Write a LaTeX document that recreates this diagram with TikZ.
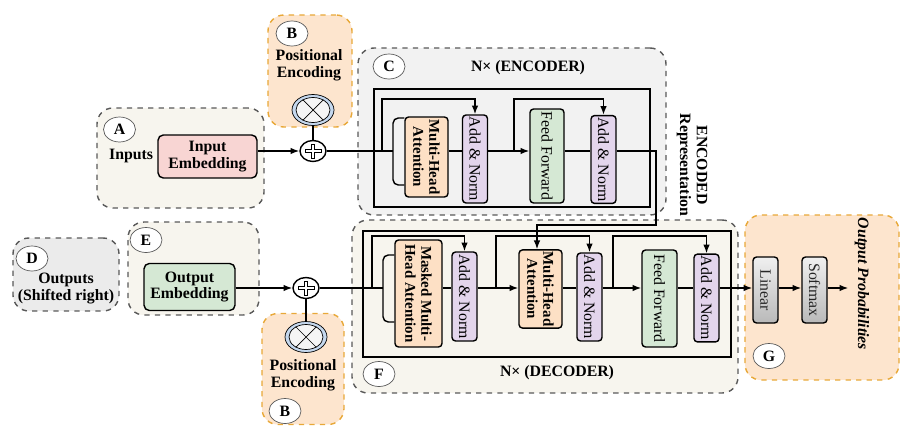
\documentclass[tikz,border=0pt]{standalone}
\usepackage{fontspec}
\setmainfont{Liberation Serif}
\usetikzlibrary{arrows.meta,positioning,shapes.geometric}

\definecolor{beige}{HTML}{F7F5EE}
\definecolor{encgray}{HTML}{F2F2F2}
\definecolor{outgray}{HTML}{EBEBEB}
\definecolor{peorange}{HTML}{FDE5CE}
\definecolor{pedash}{HTML}{E8A838}
\definecolor{embpink}{HTML}{F8D5D3}
\definecolor{ffgreen}{HTML}{D5E8D4}
\definecolor{attpeach}{HTML}{FDE0C5}
\definecolor{normpurple}{HTML}{E3D5EC}
\definecolor{ringblue}{HTML}{C5D8EE}

\begin{document}
\begin{tikzpicture}[>={Latex[length=5pt]},x=0.02cm,y=-0.02cm,thick,font=\fontsize{9}{9.5}\selectfont]
  \tikzstyle{grp}=[draw=gray!70!black,dashed,rounded corners=9pt]
  \tikzstyle{pgrp}=[draw=pedash,dashed,fill=peorange,rounded corners=9pt]
  \tikzstyle{tag}=[ellipse,draw=gray!70!black,thin,fill=white,minimum width=0.64cm,minimum height=0.5cm,inner sep=0pt,font=\fontsize{9}{9.5}\selectfont\bfseries]
  \tikzstyle{txt}=[align=center,inner sep=1pt,font=\fontsize{9}{9.5}\selectfont\bfseries]
  \tikzstyle{emb}=[draw,rounded corners=3pt,align=center,inner sep=1pt,font=\fontsize{9}{9.5}\selectfont\bfseries]
  \tikzstyle{vbox}=[draw,rounded corners=2pt,rotate=-90,align=center,inner sep=1pt]
  \tikzstyle{att}=[vbox,fill=attpeach,font=\fontsize{8.5}{9}\selectfont\bfseries]
  \tikzstyle{addnorm}=[vbox,fill=normpurple,minimum height=0.5cm]
  \tikzstyle{outbox}=[vbox,top color=gray!12,bottom color=gray!55,text=black!85,minimum height=0.5cm,minimum width=1.32cm]
  \tikzstyle{posring}=[ellipse,draw,thin,fill=ringblue,minimum width=0.84cm,minimum height=0.62cm]
  \tikzstyle{posinner}=[ellipse,draw,thin,fill=gray!8,minimum width=0.68cm,minimum height=0.5cm]
  \tikzstyle{sumnode}=[ellipse,draw,fill=white,minimum width=0.52cm,minimum height=0.42cm,inner sep=0pt]
  \useasboundingbox (0,0) rectangle (901,426);

  % groups
  \node[grp,fill=beige,minimum width=3.34cm,minimum height=2cm] (ga) at (180.5,158) {};
  \node[pgrp,minimum width=1.68cm,minimum height=2.24cm] (gb1) at (310,71) {};
  \node[grp,fill=encgray,minimum width=6.16cm,minimum height=3.34cm] (gc) at (512,131.5) {};
  \node[grp,fill=outgray,minimum width=2.12cm,minimum height=1.46cm] (gd) at (66,274.5) {};
  \node[grp,fill=beige,minimum width=2.62cm,minimum height=1.86cm] (ge) at (193.5,268.5) {};
  \node[pgrp,minimum width=1.64cm,minimum height=2.22cm] (gb2) at (303,369) {};
  \node[grp,fill=beige,minimum width=7.72cm,minimum height=3.46cm] (gf) at (545,306.5) {};
  \node[pgrp,minimum width=3.08cm,minimum height=3.3cm] (gg) at (822,297.5) {};

  % group tags
  \node[tag] (ta) at (119.5,129.5) {A};
  \node[tag] (tb1) at (292,33.5) {B};
  \node[tag] (tc) at (389,66.5) {C};
  \node[tag] (td) at (32,258.5) {D};
  \node[tag] (te) at (146,240) {E};
  \node[tag] (tb2) at (285,411) {B};
  \node[tag] (tf) at (379,374) {F};
  \node[tag] (tg) at (769,356) {G};

  % stacks
  \node[draw,minimum width=5.52cm,minimum height=2.36cm] (encblk) at (512,148) {};
  \node[draw,minimum width=7.36cm,minimum height=2.52cm] (decblk) at (547,294) {};
  \node[txt] (enct) at (528,68) {N× (ENCODER)};
  \node[txt] (dect) at (557,373) {N× (DECODER)};
  \node[txt,rotate=-90] (encrep) at (692,165) {ENCODED\\Representation};

  % inputs
  \node[emb,fill=embpink,minimum width=1.98cm,minimum height=0.86cm] (ie) at (207.5,156.5) {Input\\Embedding};
  \node[txt,left=1pt of ie] (inp) {Inputs};
  \node[txt] (outs) at (66,288.5) {Outputs\\(Shifted right)};
  \node[emb,fill=ffgreen,minimum width=1.82cm,minimum height=0.94cm] (oe) at (189.5,287) {Output\\Embedding};

  % positional encoding
  \node[txt] (pt1) at (309,65) {Positional\\Encoding};
  \node[posring] (pe1) at (313,110) {};
  \node[posinner] (pei1) at (pe1) {};
  \draw[thin] (pei1.45) -- (pei1.225) (pei1.135) -- (pei1.315);
  \node[sumnode] (s1) at (313,151) {};
  \draw[thin,shift={(s1)}] (-1.8,-7) -- (1.8,-7) -- (1.8,-1.8) -- (8,-1.8) -- (8,1.8) -- (1.8,1.8) -- (1.8,7)
    -- (-1.8,7) -- (-1.8,1.8) -- (-8,1.8) -- (-8,-1.8) -- (-1.8,-1.8) -- cycle;
  \draw (pe1.south) -- (s1.north);

  \node[txt] (pt2) at (303,375.5) {Positional\\Encoding};
  \node[posring] (pe2) at (306,337) {};
  \node[posinner] (pei2) at (pe2) {};
  \draw[thin] (pei2.45) -- (pei2.225) (pei2.135) -- (pei2.315);
  \node[sumnode] (s2) at (306,288) {};
  \draw[thin,shift={(s2)}] (-1.8,-7) -- (1.8,-7) -- (1.8,-1.8) -- (8,-1.8) -- (8,1.8) -- (1.8,1.8) -- (1.8,7)
    -- (-1.8,7) -- (-1.8,1.8) -- (-8,1.8) -- (-8,-1.8) -- (-1.8,-1.8) -- cycle;
  \draw (pe2.north) -- (s2.south);

  % encoder
  \node[att,minimum width=1.6cm,minimum height=0.86cm] (emha) at (426.5,157) {Multi-Head\\Attention};
  \node[addnorm,minimum width=1.76cm] (ean1) at (475,159) {Add \& Norm};
  \node[vbox,fill=ffgreen,minimum width=1.88cm,minimum height=0.68cm] (eff) at (547,156) {Feed Forward};
  \node[addnorm,minimum width=1.74cm] (ean2) at (603.5,159.5) {Add \& Norm};

  % decoder
  \node[att,minimum width=2.14cm,minimum height=0.94cm] (dmmha) at (418.5,293.5) {Masked Multi-\\Head Attention};
  \node[addnorm,minimum width=1.78cm] (dan1) at (464.5,296.5) {Add \& Norm};
  \node[att,minimum width=1.56cm,minimum height=0.86cm] (dmha) at (540.5,289) {Multi-Head\\Attention};
  \node[addnorm,minimum width=1.76cm] (dan2) at (589.5,297) {Add \& Norm};
  \node[vbox,fill=ffgreen,minimum width=1.94cm,minimum height=0.7cm] (dff) at (659.5,298.5) {Feed Forward};
  \node[addnorm,minimum width=1.72cm] (dan3) at (706.5,298) {Add \& Norm};

  % output head
  \node[outbox] (lin) at (765.5,290) {Linear};
  \node[outbox] (smx) at (814.5,290) {Softmax};
  \node[rotate=-90,font=\fontsize{9}{9.5}\selectfont\bfseries\itshape] (op) at (862,284) {Output Probabilities};

  \coordinate (etop) at (0,99);
  \coordinate (dtop) at (0,236);
  \coordinate (ebr) at (393,151);
  \coordinate (dbr) at (383,288);
  \coordinate (er1) at (382,151);
  \coordinate (er2) at (514,151);
  \coordinate (dr1) at (372,288);
  \coordinate (dr2) at (496,288);
  \coordinate (dr3) at (613,288);
  \coordinate (eo) at (656,225);
  \coordinate (ed) at (537,0);

  % encoder flow
  \draw[->] (ie.east |- s1) -- (s1.west);
  \draw (s1.east) -- (ebr);
  \draw[rounded corners=3pt] (emha.south |- 0,118) -| (ebr) |- (emha.south |- 0,185);
  \draw[->] (er1) |- (ean1.west |- etop) -- (ean1.west);
  \draw (emha.north |- s1) -- (ean1.south |- s1);
  \draw[->] (ean1.north |- s1) -- (eff.south |- s1);
  \draw[->] (er2) |- (ean2.west |- etop) -- (ean2.west);
  \draw (eff.north |- s1) -- (ean2.south |- s1);
  \draw[->] (ean2.north |- s1) -| (eo) -| (ed |- dmha.west);

  % decoder flow
  \draw[->] (oe.east |- s2) -- (s2.west);
  \draw (s2.east) -- (dbr);
  \draw[rounded corners=3pt] (dmmha.south |- 0,255) -| (dbr) |- (dmmha.south |- 0,322);
  \draw[->] (dr1) |- (dan1.west |- dtop) -- (dan1.west);
  \draw (dmmha.north |- s2) -- (dan1.south |- s2);
  \draw[->] (dan1.north |- s2) -- (dmha.south |- s2);
  \draw[->] (dr2) |- (dan2.west |- dtop) -- (dan2.west);
  \draw (dmha.north |- s2) -- (dan2.south |- s2);
  \draw[->] (dan2.north |- s2) -- (dff.south |- s2);
  \draw[->] (dr3) |- (dan3.west |- dtop) -- (dan3.west);
  \draw (dff.north |- s2) -- (dan3.south |- s2);
  \draw[->] (dan3.north |- s2) -- (lin.south |- s2);
  \draw[->] (lin.north |- s2) -- (smx.south |- s2);
  \draw[->] (smx.north |- s2) -- (op.south |- s2);
\end{tikzpicture}
\end{document}
